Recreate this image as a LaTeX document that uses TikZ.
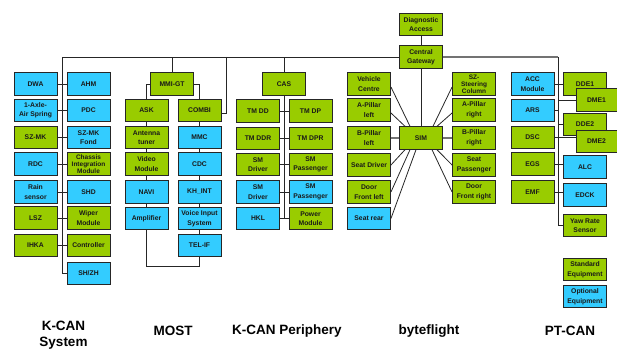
\documentclass[tikz,border=0pt]{standalone}
\usepackage{fontspec}
\setmainfont{Liberation Sans}
\usepackage{tikz}
\usetikzlibrary{positioning,calc}
\definecolor{stdgreen}{RGB}{153,204,0}
\definecolor{optblue}{RGB}{51,204,255}

\begin{document}
\begin{tikzpicture}[x=1pt, y=-1pt,
    unit/.style={draw=black!85, line width=0.9pt, minimum width=43pt, minimum height=22.5pt,
        inner sep=0pt, align=center, font=\fontsize{6.8}{9.5}\selectfont\bfseries, text=black!90},
    stdunit/.style={unit, fill=stdgreen},
    optunit/.style={unit, fill=optblue},
    tight/.style={font=\fontsize{6.5}{6.9}\selectfont\bfseries},
    conn/.style={draw=black!85, line width=0.8pt},
    graybus/.style={draw=black!55, line width=1.3pt},
    busname/.style={font=\fontsize{13.5}{16}\selectfont\bfseries, align=center}]
    \useasboundingbox (0,0) rectangle (617,350);

    % Gateway
    \node[stdunit] (diag) at (421, 24.5) {Diagnostic\\Access};
    \node[stdunit] (gw) at (421, 57) {Central\\Gateway};
    \coordinate (kbus) at (62, 57);
    \coordinate (cmbbus) at (226, 57);
    \coordinate (ptbus) at (558, 57);

    % K-CAN System
    \node[optunit] (dwa) at (35.5, 84) {DWA};
    \node[optunit] (axle) at (35.5, 110.5) {1-Axle-\\Air Spring};
    \node[stdunit] (szmk) at (35.5, 137.5) {SZ-MK};
    \node[optunit] (rdc) at (35.5, 164) {RDC};
    \node[optunit] (rain) at (35.5, 192) {Rain\\sensor};
    \node[stdunit] (lsz) at (35.5, 218) {LSZ};
    \node[stdunit] (ihka) at (35.5, 245.5) {IHKA};
    \node[optunit] (ahm) at (88.5, 84) {AHM};
    \node[optunit] (pdc) at (88.5, 110.5) {PDC};
    \node[optunit] (szmkf) at (88.5, 137.5) {SZ-MK\\Fond};
    \node[stdunit, tight] (cim) at (88.5, 164) {Chassis\\Integration\\Module};
    \node[optunit] (shd) at (88.5, 192) {SHD};
    \node[stdunit] (wiper) at (88.5, 218) {Wiper\\Module};
    \node[stdunit] (ctrl) at (88.5, 245.5) {Controller};
    \node[optunit] (shzh) at (88.5, 273.5) {SH/ZH};

    \draw[conn] (gw.west) -- (kbus) |- (shzh.west);
    \draw[conn] (dwa.east) -- (ahm.west);
    \draw[conn] (axle.east) -- (pdc.west);
    \draw[conn] (szmk.east) -- (szmkf.west);
    \draw[conn] (rdc.east) -- (cim.west);
    \draw[conn] (rain.east) -- (shd.west);
    \draw[conn] (lsz.east) -- (wiper.west);
    \draw[conn] (ihka.east) -- (ctrl.west);

    % MOST
    \node[stdunit] (mmi) at (172, 84) {MMI-GT};
    \node[stdunit] (ask) at (146.5, 110.5) {ASK};
    \node[stdunit] (ant) at (146.5, 137.5) {Antenna\\tuner};
    \node[stdunit] (video) at (146.5, 164) {Video\\Module};
    \node[optunit] (navi) at (146.5, 192) {NAVI};
    \node[optunit] (amp) at (146.5, 218.5) {Amplifier};
    \node[stdunit] (combi) at (199.5, 110.5) {COMBI};
    \node[optunit] (mmc) at (199.5, 137.5) {MMC};
    \node[optunit] (cdc) at (199.5, 164) {CDC};
    \node[optunit] (khint) at (199.5, 192) {KH\_INT};
    \node[optunit] (voice) at (199.5, 218.5) {Voice Input\\System};
    \node[optunit] (telif) at (199.5, 245.5) {TEL-IF};
    \coordinate (ring) at (199.5, 266);

    \draw[conn] (mmi.north) -- (mmi.north |- kbus);
    \draw[conn] (mmi.west) -| (ask.north);
    \draw[conn] (mmi.east) -| (combi.north);
    \draw[conn] (ask) -- (ant) -- (video) -- (navi) -- (amp);
    \draw[conn] (combi) -- (mmc) -- (cdc) -- (khint) -- (voice) -- (telif);
    \draw[conn] (amp.south) |- (ring) -- (telif.south);
    \draw[conn] (cmbbus) |- ([yshift=-2.5pt]combi.east);

    % K-CAN Periphery
    \node[stdunit] (cas) at (284, 84) {CAS};
    \node[stdunit] (tmdd) at (258, 111) {TM DD};
    \node[stdunit] (tmddr) at (258, 138.5) {TM DDR};
    \node[stdunit] (smd) at (258, 164.5) {SM\\Driver};
    \node[optunit] (smdo) at (258, 192) {SM\\Driver};
    \node[optunit] (hkl) at (258, 218.5) {HKL};
    \node[stdunit] (tmdp) at (310.5, 111) {TM DP};
    \node[stdunit] (tmdpr) at (310.5, 138.5) {TM DPR};
    \node[stdunit] (smp) at (310.5, 164.5) {SM\\Passenger};
    \node[optunit] (smpo) at (310.5, 192) {SM\\Passenger};
    \node[stdunit] (pm) at (310.5, 218.5) {Power\\Module};

    \draw[conn] (cas.north) -- (cas.north |- kbus);
    \draw[conn] (cas) -- (cas |- pm);
    \draw[conn] (tmdd.east) -- (tmdp.west);
    \draw[conn] (tmddr.east) -- (tmdpr.west);
    \draw[conn] (smd.east) -- (smp.west);
    \draw[conn] (smdo.east) -- (smpo.west);
    \draw[conn] (hkl.east) -- (pm.west);

    % byteflight
    \node[stdunit] (sim) at (421, 138) {SIM};
    \node[stdunit] (vc) at (369, 84) {Vehicle\\Centre};
    \node[stdunit] (apl) at (369, 110) {A-Pillar\\left};
    \node[stdunit] (bpl) at (369, 138) {B-Pillar\\left};
    \node[stdunit] (sd) at (369, 165) {Seat Driver};
    \node[stdunit] (dfl) at (369, 192) {Door\\Front left};
    \node[optunit] (sr) at (369, 218.5) {Seat rear};
    \node[stdunit, tight] (szs) at (474, 84) {SZ-\\Steering\\Column};
    \node[stdunit] (apr) at (474, 110) {A-Pillar\\right};
    \node[stdunit] (bpr) at (474, 138) {B-Pillar\\right};
    \node[stdunit] (sp) at (474, 165) {Seat\\Passenger};
    \node[stdunit] (dfr) at (474, 192) {Door\\Front right};

    \draw[conn] (diag) -- (gw);
    \draw[conn] (gw) -- (sim);
    \draw[conn] ([yshift=-3pt]vc.east) -- ([xshift=-11pt]sim.north);
    \draw[conn] ([yshift=-3pt]apl.east) -- ([xshift=-16pt]sim.north);
    \draw[graybus] (bpl.east) -- (sim.west);
    \draw[conn] (sd.east) -- ([xshift=-16pt]sim.south);
    \draw[conn] (dfl.east) -- ([xshift=-11pt]sim.south);
    \draw[conn] (sr.east) -- ([xshift=-5pt]sim.south);
    \draw[conn] ([yshift=-3pt]szs.west) -- ([xshift=12pt]sim.north);
    \draw[conn] ([yshift=-3pt]apr.west) -- ([xshift=16pt]sim.north);
    \draw[graybus] (sim.east) -- (bpr.west);
    \draw[conn] (sp.west) -- ([xshift=16pt]sim.south);
    \draw[conn] (dfr.west) -- ([xshift=11pt]sim.south);

    % PT-CAN
    \node[optunit] (acc) at (532.5, 84) {ACC\\Module};
    \node[optunit] (ars) at (532.5, 110.5) {ARS};
    \node[stdunit] (dsc) at (532.5, 137.5) {DSC};
    \node[stdunit] (egs) at (532.5, 164) {EGS};
    \node[stdunit] (emf) at (532.5, 192) {EMF};
    \node[stdunit] (dde1) at (585, 84) {DDE1};
    \node[stdunit, minimum width=41pt] (dme1) at (596.5, 100) {DME1};
    \node[stdunit] (dde2) at (585, 124.5) {DDE2};
    \node[stdunit, minimum width=41pt] (dme2) at (596.5, 141.5) {DME2};
    \node[optunit] (alc) at (585, 167) {ALC};
    \node[optunit] (edck) at (585, 195) {EDCK};
    \node[stdunit] (yaw) at (585, 225.5) {Yaw Rate\\Sensor};

    \draw[graybus] (gw.east) -- (ptbus);
    \draw[conn] (ptbus) |- (yaw.west);
    \draw[conn] (acc.east) -- (dde1.west);
    \draw[conn] (ars.east) -- (ars.east -| ptbus);
    \draw[conn] (dme1.west -| ptbus) -- (dme1.west);
    \draw[conn] (dde2.west -| ptbus) -- (dde2.west);
    \draw[conn] (dsc.east) -- (dsc.east -| dme2.west);
    \draw[conn] (egs.east) -- (egs.east -| alc.west);
    \draw[conn] (emf.east) -- (emf.east -| edck.west);

    % legend
    \node[stdunit] (lstd) at (585, 269.5) {Standard\\Equipment};
    \node[optunit] (lopt) at (585, 296.5) {Optional\\Equipment};

    % bus names
    \node[busname] (nks) at (63.5, 335.5) {K-CAN\\System};
    \node[busname] (nmost) at (173, 331) {MOST};
    \node[busname] (nkp) at (287, 331) {K-CAN Periphery};
    \node[busname] (nbf) at (429, 331) {byteflight};
    \node[busname] (npt) at (570, 331) {PT-CAN};
\end{tikzpicture}
\end{document}
